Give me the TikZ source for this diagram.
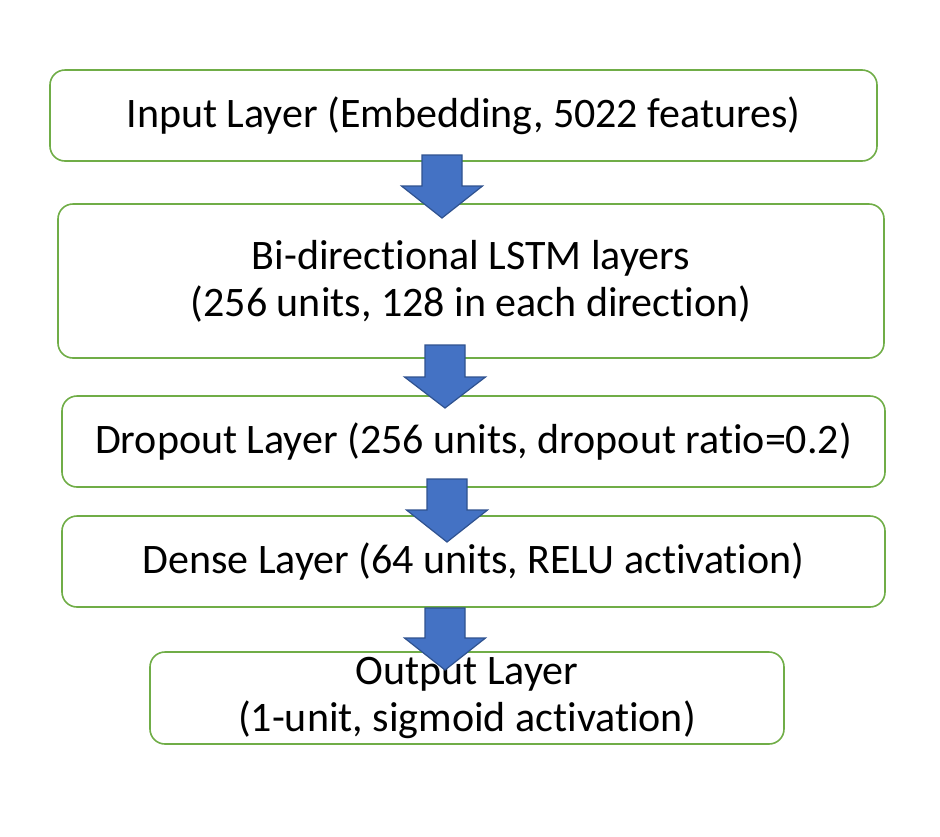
\documentclass[tikz,border=0pt]{standalone}
\usepackage{fontspec}
\setmainfont{Carlito}[Ligatures=CommonOff]
\definecolor{vert}{HTML}{70AD47}
\definecolor{bleu}{HTML}{4472C4}
\definecolor{bleufonce}{HTML}{2F528F}
\begin{document}
\begin{tikzpicture}[x=1pt, y=-1pt]
\tikzset{couche/.style={draw=vert, line width=1.6pt, rounded corners=15pt, align=center, inner sep=0pt, font=\fontsize{42}{47}\selectfont}}
\tikzset{fleche/.style={draw=bleufonce, fill=bleu, line width=1.2pt, line join=miter}}
\useasboundingbox (0,0) rectangle (940,836);
\node[couche, minimum width=827pt, minimum height=91pt] (C1) at (463.5,115.5) {Input Layer (Embedding, 5022 features)};
\node[couche, minimum width=826pt, minimum height=154pt] (C2) at (471,281) {Bi-directional LSTM layers\\(256 units, 128 in each direction)};
\node[couche, minimum width=823pt, minimum height=91pt] (C3) at (473.5,441.5) {Dropout Layer (256 units, dropout ratio=0.2)};
\node[couche, minimum width=823pt, minimum height=91pt] (C4) at (473.5,561.5) {Dense Layer (64 units, RELU activation)};
\node[couche, minimum width=634pt, minimum height=92pt] (C5) at (467,698) {Output Layer\\(1-unit, sigmoid activation)};
\coordinate (F1) at (442,155);
\coordinate (F2) at (445,345);
\coordinate (F3) at (447,479);
\coordinate (F4) at (445,608);
\draw[fleche] (F1) +(-20,0) -- +(20,0) -- +(20,31) -- +(40.5,31) -- +(0,63) -- +(-40.5,31) -- +(-20,31) -- cycle;
\draw[fleche] (F2) +(-20,0) -- +(20,0) -- +(20,32) -- +(40.5,32) -- +(0,63) -- +(-40.5,32) -- +(-20,32) -- cycle;
\draw[fleche] (F3) +(-20,0) -- +(20,0) -- +(20,31) -- +(40.5,31) -- +(0,63) -- +(-40.5,31) -- +(-20,31) -- cycle;
\draw[fleche] (F4) +(-20,0) -- +(20,0) -- +(20,30) -- +(40.5,30) -- +(0,62) -- +(-40.5,30) -- +(-20,30) -- cycle;
\end{tikzpicture}
\end{document}
